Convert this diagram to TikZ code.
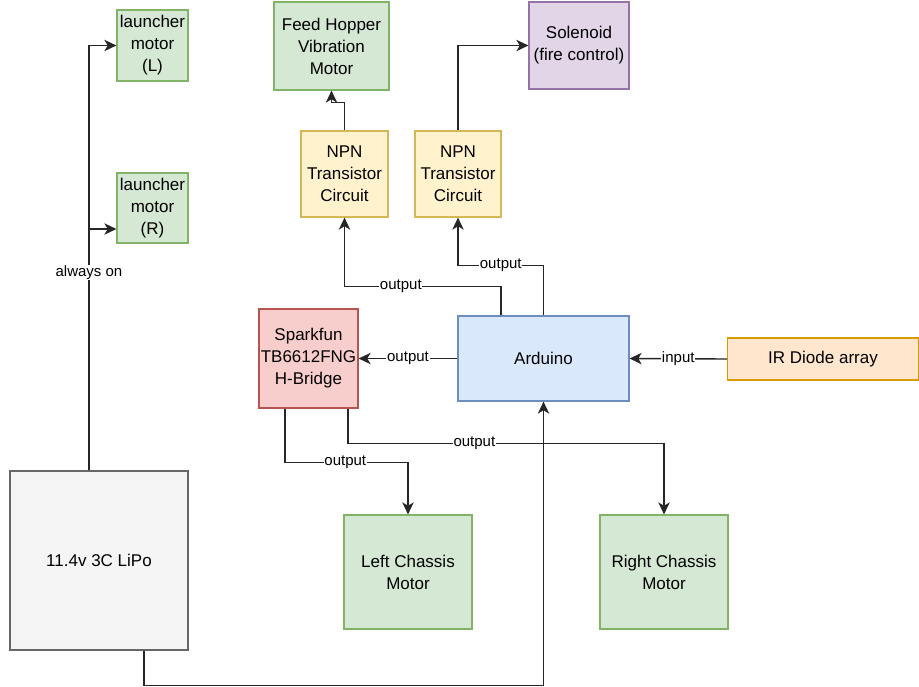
\documentclass[tikz,border=0pt]{standalone}
\usepackage{fontspec}
\setmainfont{Liberation Sans}
\usetikzlibrary{calc,arrows.meta}

\definecolor{grnfill}{HTML}{D5E8D4}
\definecolor{grnline}{HTML}{82B366}
\definecolor{ylwfill}{HTML}{FFF2CC}
\definecolor{ylwline}{HTML}{D6B656}
\definecolor{purfill}{HTML}{E1D5E7}
\definecolor{purline}{HTML}{9673A6}
\definecolor{redfill}{HTML}{F8CECC}
\definecolor{redline}{HTML}{B85450}
\definecolor{blufill}{HTML}{DAE8FC}
\definecolor{bluline}{HTML}{6C8EBF}
\definecolor{orgfill}{HTML}{FFE6CC}
\definecolor{orgline}{HTML}{D79B00}
\definecolor{gryfill}{HTML}{F5F5F5}
\definecolor{gryline}{HTML}{666666}

\def\px{0.75pt}

\tikzset{
	blk/.style={draw, line width=0.9pt, align=center, inner sep=0pt,
		font=\fontsize{12.75}{16.5}\selectfont},
	grnbox/.style={blk, fill=grnfill, draw=grnline},
	ylwbox/.style={blk, fill=ylwfill, draw=ylwline},
	purbox/.style={blk, fill=purfill, draw=purline},
	redbox/.style={blk, fill=redfill, draw=redline},
	blubox/.style={blk, fill=blufill, draw=bluline},
	orgbox/.style={blk, fill=orgfill, draw=orgline},
	grybox/.style={blk, fill=gryfill, draw=gryline},
	link/.style={draw=black!85, line width=1.05pt, -{Stealth[length=9pt,width=8.5pt,inset=2.5pt]}},
	lbl/.style={fill=white, inner sep=0.5pt, font=\fontsize{11.25}{13}\selectfont}
}

\begin{document}
\begin{tikzpicture}[x=0.75pt,y=-0.75pt]
	%%%%% START %%%%%
	\useasboundingbox (0,0) rectangle (919,686);

	% boxes
	\node[grnbox, minimum width=71*\px, minimum height=71*\px] (launchL) at (152.5,45.5) {launcher\\motor\\(L)};
	\node[grnbox, minimum width=71*\px, minimum height=70*\px] (launchR) at (152.5,208) {launcher\\motor\\(R)};
	\node[grnbox, minimum width=115*\px, minimum height=88*\px] (hopper) at (331.5,46) {Feed Hopper\\Vibration\\Motor};
	\node[purbox, minimum width=100*\px, minimum height=87*\px] (solenoid) at (579,45.5) {Solenoid\\(fire control)};
	\node[ylwbox, minimum width=87*\px, minimum height=86*\px] (npnA) at (344.5,174) {NPN\\Transistor\\Circuit};
	\node[ylwbox, minimum width=86*\px, minimum height=86*\px] (npnB) at (458,174) {NPN\\Transistor\\Circuit};
	\node[redbox, minimum width=99*\px, minimum height=99*\px] (hbridge) at (308.5,358.5) {Sparkfun\\TB6612FNG\\H-Bridge};
	\node[blubox, minimum width=171*\px, minimum height=85*\px] (arduino) at (543.5,358.5) {Arduino};
	\node[orgbox, minimum width=191*\px, minimum height=42*\px] (irarray) at (823,359) {IR Diode array};
	\node[grybox, minimum width=178*\px, minimum height=179*\px] (lipo) at (99,560.5) {11.4v 3C LiPo};
	\node[grnbox, minimum width=128*\px, minimum height=114*\px] (leftmot) at (408,572) {Left Chassis\\Motor};
	\node[grnbox, minimum width=128*\px, minimum height=114*\px] (rightmot) at (664,572) {Right Chassis\\Motor};

	% battery lines
	\draw[link] ($(lipo.north)+(-10,0)$) |- (launchL.west);
	\draw[link] ($(lipo.north)+(-10,0)$) |- node[lbl, pos=0.41] {always on} ($(launchR.west)+(0,21)$);
	\draw[link] ($(lipo.south)+(45,0)$) -- ++(0,35) -| (arduino.south);

	% transistor outputs
	\draw[link] (npnA.north) -- ++(0,-28) -| (hopper.south);
	\draw[link] (npnB.north) |- (solenoid.west);

	% arduino
	\draw[link] ($(arduino.north)+(-42.5,0)$) -- ++(0,-29) -| node[lbl, pos=0.32] {output} (npnA.south);
	\draw[link] (arduino.north) -- ++(0,-50) -| node[lbl, pos=0.25] {output} (npnB.south);
	\draw[link] (arduino.west) -- node[lbl] {output} (hbridge.east);
	\draw[link] (irarray.west) -- node[lbl] {input} (arduino.east);

	% h-bridge to chassis motors
	\draw[link] ($(hbridge.south)+(-23.5,0)$) -- ++(0,54) -| node[lbl, pos=0.245] {output} (leftmot.north);
	\draw[link] ($(hbridge.south)+(39.5,0)$) -- ++(0,35) -| node[lbl, pos=0.2] {output} (rightmot.north);

	%%%%% END %%%%%
\end{tikzpicture}
\end{document}
